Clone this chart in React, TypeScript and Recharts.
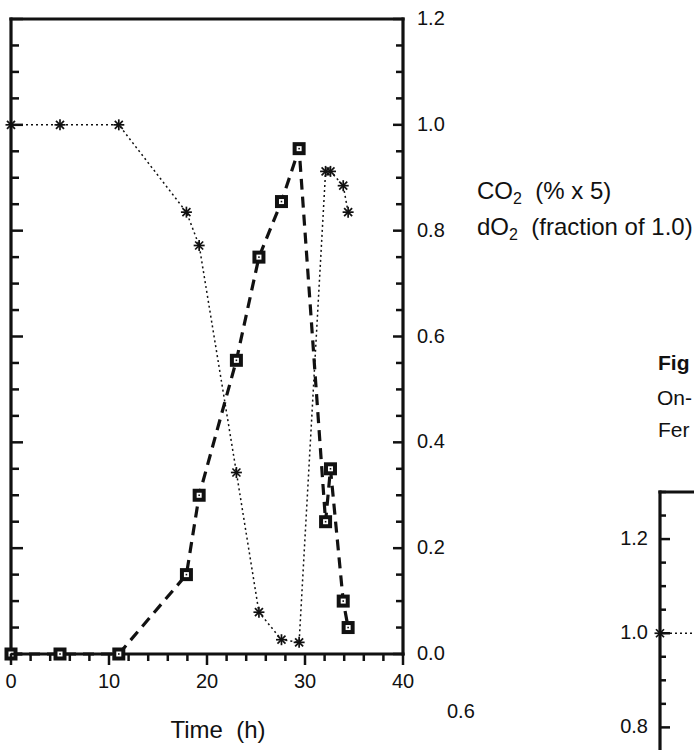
import React from 'react';
import { LineChart, Line, XAxis, YAxis } from 'recharts';

// ---- Main figure data ----
const timeH = [0, 5, 11, 17.9, 19.2, 23.0, 25.3, 27.6, 29.4, 32.1, 32.6, 33.9, 34.4];
const co2Values = [0, 0, 0, 0.15, 0.30, 0.555, 0.75, 0.855, 0.955, 0.25, 0.35, 0.10, 0.05];
const dO2Values = [1.0, 1.0, 1.0, 0.835, 0.772, 0.343, 0.079, 0.027, 0.022, 0.912, 0.912, 0.885, 0.835];

const xTicks = [0, 2, 4, 6, 8, 10, 12, 14, 16, 18, 20, 22, 24, 26, 28, 30, 32, 34, 36, 38, 40];
const xTickLabels = ['0', '10', '20', '30', '40'];
const yTicks = [0, 0.05, 0.1, 0.15, 0.2, 0.25, 0.3, 0.35, 0.4, 0.45, 0.5, 0.55, 0.6, 0.65, 0.7, 0.75, 0.8, 0.85, 0.9, 0.95, 1.0, 1.05, 1.1, 1.15, 1.2];
const yTickLabels = ['0.0', '0.2', '0.4', '0.6', '0.8', '1.0', '1.2'];

// ---- Partially visible neighbouring figure ----
const fig2Time = [0, 5];
const fig2DO2 = [1.0, 1.0];
const fig2YTicks = [0.8, 0.85, 0.9, 0.95, 1.0, 1.05, 1.1, 1.15, 1.2, 1.25, 1.3];
const fig2YTickLabels = ['0.0', '0.2', '0.4', '0.6', '0.8', '1.0', '1.2'];

// ---- Texts ----
const co2Label = { main: 'CO', sub: '2', rest: '  (% x 5)' };
const dO2Label = { main: 'dO', sub: '2', rest: '  (fraction of 1.0)' };
const timeLabel = 'Time  (h)';
const strayLabel = '0.6';
const sideTexts = ['Fig', 'On-', 'Fer'];

const rows = timeH.map((t, i) => ({ t, co2: co2Values[i], dO2: dO2Values[i] }));
const fig2Rows = fig2Time.map((t, i) => ({ t, dO2: fig2DO2[i] }));

const INK = '#111';
const isMajor = (v: number) => Math.abs(v * 5 - Math.round(v * 5)) < 1e-6;

const XTick = (props: any) => {
  const { x, y, payload } = props;
  const v = payload.value as number;
  const major = Math.abs(v / 10 - Math.round(v / 10)) < 1e-6;
  return (
    <g>
      <line x1={x} x2={x} y1={y} y2={y + (major ? 11 : 7)} stroke={INK} strokeWidth={2.5} />
      {major && (
        <text x={x} y={y + 34} textAnchor="middle" fontSize={20} fill={INK}>
          {xTickLabels[Math.round(v / 10)]}
        </text>
      )}
    </g>
  );
};

const RightTick = (props: any) => {
  const { x, y, payload } = props;
  const v = payload.value as number;
  const major = isMajor(v);
  return (
    <g>
      <line x1={x} x2={x - (major ? 10 : 7)} y1={y} y2={y} stroke={INK} strokeWidth={2.5} />
      {major && (
        <text x={x + 14} y={y + 6} fontSize={20} fill={INK}>
          {yTickLabels[Math.round(v * 5)]}
        </text>
      )}
    </g>
  );
};

const LeftInTick = (props: any) => {
  const { x, y, payload } = props;
  const v = payload.value as number;
  const major = isMajor(v);
  return <line x1={x} x2={x + (major ? 12 : 8)} y1={y} y2={y} stroke={INK} strokeWidth={2.5} />;
};

const Fig2Tick = (props: any) => {
  const { x, y, payload } = props;
  const v = payload.value as number;
  const major = isMajor(v);
  return (
    <g>
      <line x1={x} x2={x + (major ? 10 : 6)} y1={y} y2={y} stroke={INK} strokeWidth={2.5} />
      {major && (
        <text x={x - 12} y={y + 6} textAnchor="end" fontSize={20} fill={INK}>
          {fig2YTickLabels[Math.round(v * 5)]}
        </text>
      )}
    </g>
  );
};

const SquareDot = (props: any) => {
  const { cx, cy } = props;
  if (cx == null || cy == null) return <g />;
  return (
    <g>
      <rect x={cx - 6.5} y={cy - 6.5} width={13} height={13} fill={INK} />
      <rect x={cx - 2.5} y={cy - 2.5} width={5} height={5} fill="#fff" />
      <rect x={cx - 0.8} y={cy - 0.8} width={1.6} height={1.6} fill={INK} />
    </g>
  );
};

const StarDot = (props: any) => {
  const { cx, cy } = props;
  if (cx == null || cy == null) return <g />;
  const r = 5.5;
  const d = 4;
  return (
    <g stroke={INK} strokeWidth={1.7}>
      <line x1={cx - r} x2={cx + r} y1={cy} y2={cy} />
      <line x1={cx} x2={cx} y1={cy - r} y2={cy + r} />
      <line x1={cx - d} x2={cx + d} y1={cy - d} y2={cy + d} />
      <line x1={cx - d} x2={cx + d} y1={cy + d} y2={cy - d} />
    </g>
  );
};

const frameLine = { stroke: INK, strokeWidth: 3.2, strokeLinecap: 'square' as const };

export default function App() {
  return (
    <div
      style={{
        position: 'fixed',
        left: 0,
        top: 0,
        width: 694,
        height: 750,
        overflow: 'hidden',
        background: '#fff',
        fontFamily: '"Liberation Sans", Arial, Helvetica, sans-serif',
      }}
    >
      <div style={{ position: 'absolute', left: 0, top: 0 }}>
        <LineChart width={694} height={750} data={rows} margin={{ top: 18, left: 10, right: 251, bottom: 56 }}>
          <XAxis
            xAxisId="b"
            dataKey="t"
            type="number"
            domain={[0, 40]}
            ticks={xTicks}
            interval={0}
            height={40}
            tickSize={0}
            tickMargin={0}
            tickLine={false}
            axisLine={frameLine}
            tick={(p: any) => <XTick {...p} />}
          />
          <XAxis
            xAxisId="top"
            orientation="top"
            type="number"
            domain={[0, 40]}
            height={1}
            tick={false}
            tickLine={false}
            axisLine={frameLine}
          />
          <YAxis
            yAxisId="r"
            orientation="right"
            type="number"
            domain={[0, 1.2]}
            ticks={yTicks}
            interval={0}
            width={40}
            tickSize={0}
            tickMargin={0}
            tickLine={false}
            axisLine={frameLine}
            tick={(p: any) => <RightTick {...p} />}
          />
          <YAxis
            yAxisId="l"
            orientation="left"
            type="number"
            domain={[0, 1.2]}
            ticks={yTicks}
            interval={0}
            width={1}
            tickSize={0}
            tickMargin={0}
            tickLine={false}
            axisLine={frameLine}
            tick={(p: any) => <LeftInTick {...p} />}
          />
          <Line
            xAxisId="b"
            yAxisId="l"
            type="linear"
            dataKey="dO2"
            stroke={INK}
            strokeWidth={1.5}
            strokeDasharray="2 3"
            dot={(p: any) => <StarDot key={`s${p.index}`} {...p} />}
            activeDot={false}
            isAnimationActive={false}
          />
          <Line
            xAxisId="b"
            yAxisId="r"
            type="linear"
            dataKey="co2"
            stroke={INK}
            strokeWidth={3.2}
            strokeDasharray="11 7"
            dot={(p: any) => <SquareDot key={`q${p.index}`} {...p} />}
            activeDot={false}
            isAnimationActive={false}
          />
        </LineChart>
      </div>

      <div style={{ position: 'absolute', left: 600, top: 440 }}>
        <LineChart width={460} height={700} data={fig2Rows} margin={{ top: 51, left: 59, right: 7, bottom: 36 }}>
          <XAxis xAxisId="b" dataKey="t" type="number" domain={[0, 40]} hide />
          <XAxis
            xAxisId="top"
            orientation="top"
            type="number"
            domain={[0, 40]}
            height={1}
            tick={false}
            tickLine={false}
            axisLine={frameLine}
          />
          <YAxis
            yAxisId="l"
            orientation="left"
            type="number"
            domain={[0, 1.3]}
            ticks={fig2YTicks}
            interval={0}
            width={1}
            tickSize={0}
            tickMargin={0}
            tickLine={false}
            axisLine={frameLine}
            tick={(p: any) => <Fig2Tick {...p} />}
          />
          <Line
            xAxisId="b"
            yAxisId="l"
            type="linear"
            dataKey="dO2"
            stroke={INK}
            strokeWidth={1.5}
            strokeDasharray="2 3"
            dot={(p: any) => <StarDot key={`f${p.index}`} {...p} />}
            activeDot={false}
            isAnimationActive={false}
          />
        </LineChart>
      </div>

      <svg
        width={694}
        height={750}
        style={{ position: 'absolute', left: 0, top: 0, pointerEvents: 'none' }}
      >
        <text x={477} y={199} fontSize={24} fill={INK} xmlSpace="preserve" style={{ whiteSpace: 'pre' }}>
          {co2Label.main}
          <tspan fontSize={16} dy={5}>{co2Label.sub}</tspan>
          <tspan dy={-5}>{co2Label.rest}</tspan>
        </text>
        <text x={477} y={235} fontSize={24} fill={INK} xmlSpace="preserve" style={{ whiteSpace: 'pre' }}>
          {dO2Label.main}
          <tspan fontSize={16} dy={5}>{dO2Label.sub}</tspan>
          <tspan dy={-5}>{dO2Label.rest}</tspan>
        </text>
        <text x={218} y={738} fontSize={24} textAnchor="middle" fill={INK} xmlSpace="preserve" style={{ whiteSpace: 'pre' }}>
          {timeLabel}
        </text>
        <text x={447} y={718} fontSize={20} fill={INK}>
          {strayLabel}
        </text>
        <text x={658} y={370} fontSize={21} fontWeight="bold" fill={INK}>
          {sideTexts[0]}
        </text>
        <text x={657} y={405} fontSize={21} fill={INK}>
          {sideTexts[1]}
        </text>
        <text x={658} y={437} fontSize={21} fill={INK}>
          {sideTexts[2]}
        </text>
      </svg>
    </div>
  );
}
